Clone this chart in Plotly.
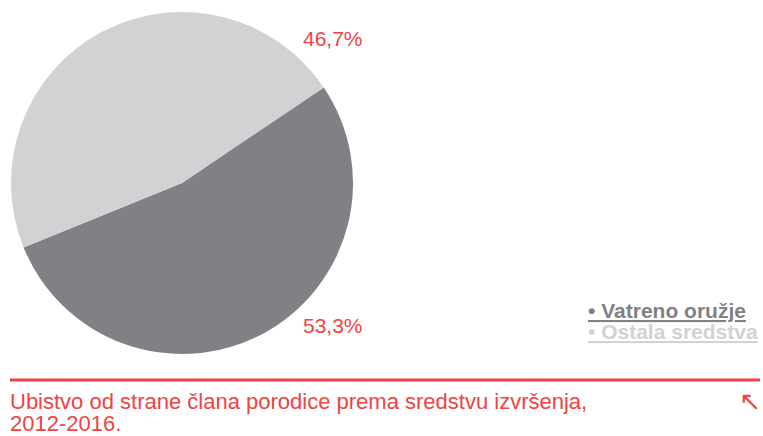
import plotly.graph_objects as go

categories = ["Vatreno oružje", "Ostala sredstva"]
values = [53.3, 46.7]
colors = ["#808184", "#d1d2d4"]
title_lines = ["Ubistvo od strane člana porodice prema sredstvu izvršenja,", "2012-2016."]

W, H = 763, 436
RED = "#ee4444"

fig = go.Figure()
fig.add_trace(go.Pie(
    labels=categories, values=values, sort=False, direction="clockwise",
    rotation=56, marker=dict(colors=colors, line=dict(width=0)),
    textinfo="none", hoverinfo="label+percent", showlegend=False,
    domain=dict(x=[11 / W, 353 / W], y=[1 - 354 / H, 1 - 12 / H]),
))

total = sum(values)
def pct(v):
    return f"{v / total * 100:.1f}".replace(".", ",") + "%"

# percentage labels
label_pos = {"Vatreno oružje": 325, "Ostala sredstva": 38}
for c, v in zip(categories, values):
    fig.add_annotation(x=333 / W, y=1 - label_pos[c] / H, xref="paper", yref="paper",
                       text=pct(v), showarrow=False, xanchor="center", yanchor="middle",
                       font=dict(family="Liberation Sans, Arial, sans-serif", size=21, color=RED))

# legend as bullet text
leg_y = [310, 331]
for c, col, y in zip(categories, colors, leg_y):
    fig.add_annotation(x=586 / W, y=1 - y / H, xref="paper", yref="paper",
                       text=f"<b><u>• {c}</u></b>", showarrow=False, xanchor="left", yanchor="middle",
                       font=dict(family="Liberation Sans, Arial, sans-serif", size=21, color=col))

# red separator line
fig.add_shape(type="line", xref="paper", yref="paper", x0=10 / W, x1=760 / W,
              y0=1 - 380 / H, y1=1 - 380 / H, line=dict(color=RED, width=3))

# title (two lines)
for line, yc in zip(title_lines, [401, 423]):
    fig.add_annotation(x=8 / W, y=1 - yc / H, xref="paper", yref="paper", text=line,
                       showarrow=False, xanchor="left", yanchor="middle", align="left",
                       font=dict(family="Liberation Sans, Arial, sans-serif", size=22, color=RED))
fig.add_annotation(x=750 / W, y=1 - 401 / H, xref="paper", yref="paper", text="↖",
                   showarrow=False, xanchor="center", yanchor="middle",
                   font=dict(family="DejaVu Sans, sans-serif", size=26, color=RED))

fig.update_layout(width=W, height=H, margin=dict(l=0, r=0, t=0, b=0),
                  paper_bgcolor="white", plot_bgcolor="white")
fig.write_html("out.html", config={"displayModeBar": False},
               post_script="document.body.style.margin='0';document.body.style.overflow='hidden';")
